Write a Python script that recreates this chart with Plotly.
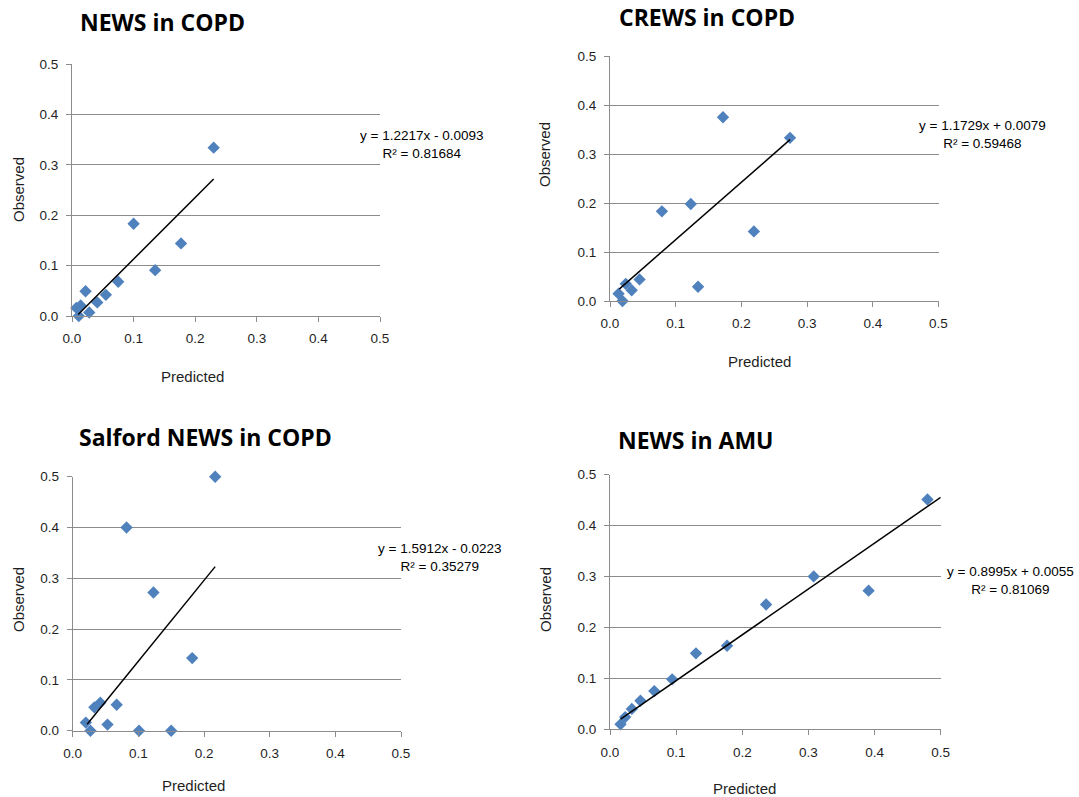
import plotly.graph_objects as go

W, H = 1079, 797

# ---- data ----
titles = ["NEWS in COPD", "CREWS in COPD", "Salford NEWS in COPD", "NEWS in AMU"]

news_copd_pred = [0.230, 0.100, 0.177, 0.135, 0.075, 0.055, 0.041, 0.022, 0.028, 0.014, 0.007, 0.011]
news_copd_obs = [0.334, 0.183, 0.144, 0.091, 0.068, 0.042, 0.027, 0.049, 0.007, 0.021, 0.016, 0.000]

crews_copd_pred = [0.172, 0.274, 0.123, 0.079, 0.219, 0.134, 0.045, 0.024, 0.033, 0.013, 0.019]
crews_copd_obs = [0.375, 0.333, 0.198, 0.183, 0.142, 0.029, 0.044, 0.035, 0.022, 0.015, 0.000]

salford_pred = [0.217, 0.082, 0.123, 0.182, 0.067, 0.042, 0.033, 0.053, 0.020, 0.027, 0.101, 0.150]
salford_obs = [0.500, 0.400, 0.272, 0.143, 0.051, 0.055, 0.046, 0.012, 0.016, 0.000, 0.000, 0.000]

amu_pred = [0.480, 0.308, 0.391, 0.236, 0.177, 0.130, 0.094, 0.067, 0.046, 0.033, 0.023, 0.016]
amu_obs = [0.451, 0.300, 0.272, 0.245, 0.164, 0.149, 0.098, 0.075, 0.056, 0.040, 0.024, 0.010]

slopes = [1.2217, 1.1729, 1.5912, 0.8995]
intercepts = [-0.0093, 0.0079, -0.0223, 0.0055]
r_squared = ["0.81684", "0.59468", "0.35279", "0.81069"]
trend_x_start = [0.010, 0.014, 0.022, 0.016]
trend_x_end = [0.230, 0.274, 0.217, 0.500]

tick_vals = [0.0, 0.1, 0.2, 0.3, 0.4, 0.5]

# ---- layout geometry (pixels) ----
plot_px = [  # x0, x1, ytop, ybottom
    (72, 380, 64, 316),
    (610, 938.5, 56, 301),
    (72.7, 401, 476.7, 730.7),
    (610, 940.7, 474.5, 729.3),
]
title_px = [(78, 22), (617, 17), (77, 437), (616, 440)]
obs_px = [(18, 190), (544, 155), (18, 600), (545, 600)]
pred_px = [(192, 376), (759, 361), (193, 785), (744, 788)]
eq_px = [(421, 144), (982, 134.5), (439, 557.5), (1010, 580.5)]

series = [
    (news_copd_pred, news_copd_obs),
    (crews_copd_pred, crews_copd_obs),
    (salford_pred, salford_obs),
    (amu_pred, amu_obs),
]

def px_x(x):
    return x / W

def px_y(y):
    return 1 - y / H

fig = go.Figure()
annotations = []
layout_axes = {}

grid_col = "#8c8c8c"
text_col = "#1f1f1f"
font_reg = "Liberation Sans"
font_bold = "Open Sans"

for i, (xs, ys) in enumerate(series):
    n = i + 1
    xa = "x" if n == 1 else f"x{n}"
    ya = "y" if n == 1 else f"y{n}"
    fig.add_trace(go.Scatter(
        x=xs, y=ys, mode="markers", xaxis=xa, yaxis=ya,
        marker=dict(symbol="diamond", size=9.5, color="#4F81BD",
                    line=dict(width=0)),
        showlegend=False, cliponaxis=False,
    ))
    tx = [trend_x_start[i], trend_x_end[i]]
    ty = [slopes[i] * v + intercepts[i] for v in tx]
    fig.add_trace(go.Scatter(
        x=tx, y=ty, mode="lines", xaxis=xa, yaxis=ya,
        line=dict(color="black", width=1.5),
        showlegend=False, cliponaxis=False,
    ))
    x0, x1, yt, yb = plot_px[i]
    xkey = "xaxis" if n == 1 else f"xaxis{n}"
    ykey = "yaxis" if n == 1 else f"yaxis{n}"
    layout_axes[xkey] = dict(
        domain=[px_x(x0), px_x(x1)], anchor=ya, range=[0, 0.5],
        tickvals=tick_vals, tickformat=".1f", showgrid=False,
        showline=True, linecolor=grid_col, linewidth=1,
        ticks="outside", ticklen=5, tickcolor=grid_col,
        ticklabelstandoff=5,
        tickfont=dict(family=font_reg, size=13.5, color=text_col),
        zeroline=False, fixedrange=True, automargin=False,
    )
    layout_axes[ykey] = dict(
        domain=[px_y(yb), px_y(yt)], anchor=xa, range=[0, 0.5],
        tickvals=tick_vals, tickformat=".1f", showgrid=True,
        gridcolor=grid_col, gridwidth=1,
        showline=True, linecolor=grid_col, linewidth=1,
        ticks="outside", ticklen=5, tickcolor=grid_col,
        ticklabelstandoff=5,
        tickfont=dict(family=font_reg, size=13.5, color=text_col),
        zeroline=False, fixedrange=True, automargin=False,
    )
    annotations.append(dict(
        text=f"<b>{titles[i]}</b>", x=px_x(title_px[i][0]), y=px_y(title_px[i][1]),
        xref="paper", yref="paper", xanchor="left", yanchor="middle",
        showarrow=False, font=dict(family=font_bold, size=23, color="black"),
    ))
    annotations.append(dict(
        text="Observed", x=px_x(obs_px[i][0]), y=px_y(obs_px[i][1]),
        xref="paper", yref="paper", xanchor="center", yanchor="middle",
        textangle=-90, showarrow=False,
        font=dict(family=font_reg, size=15, color=text_col),
    ))
    annotations.append(dict(
        text="Predicted", x=px_x(pred_px[i][0]), y=px_y(pred_px[i][1]),
        xref="paper", yref="paper", xanchor="center", yanchor="middle",
        showarrow=False, font=dict(family=font_reg, size=15, color=text_col),
    ))
    sign = "-" if intercepts[i] < 0 else "+"
    eq = f"y = {slopes[i]:.4f}x {sign} {abs(intercepts[i]):.4f}<br>R² = {r_squared[i]}"
    annotations.append(dict(
        text=eq, x=px_x(eq_px[i][0]), y=px_y(eq_px[i][1]),
        xref="paper", yref="paper", xanchor="center", yanchor="middle",
        align="center", showarrow=False,
        font=dict(family=font_reg, size=13.5, color="black"),
    ))

fig.update_layout(
    width=W, height=H,
    margin=dict(l=0, r=0, t=0, b=0, pad=0, autoexpand=False),
    paper_bgcolor="white", plot_bgcolor="white",
    annotations=annotations, **layout_axes,
)

fig.write_html(
    "out.html",
    config={"displayModeBar": False},
    post_script="document.body.style.margin='0px';document.body.style.overflow='hidden';",
)
